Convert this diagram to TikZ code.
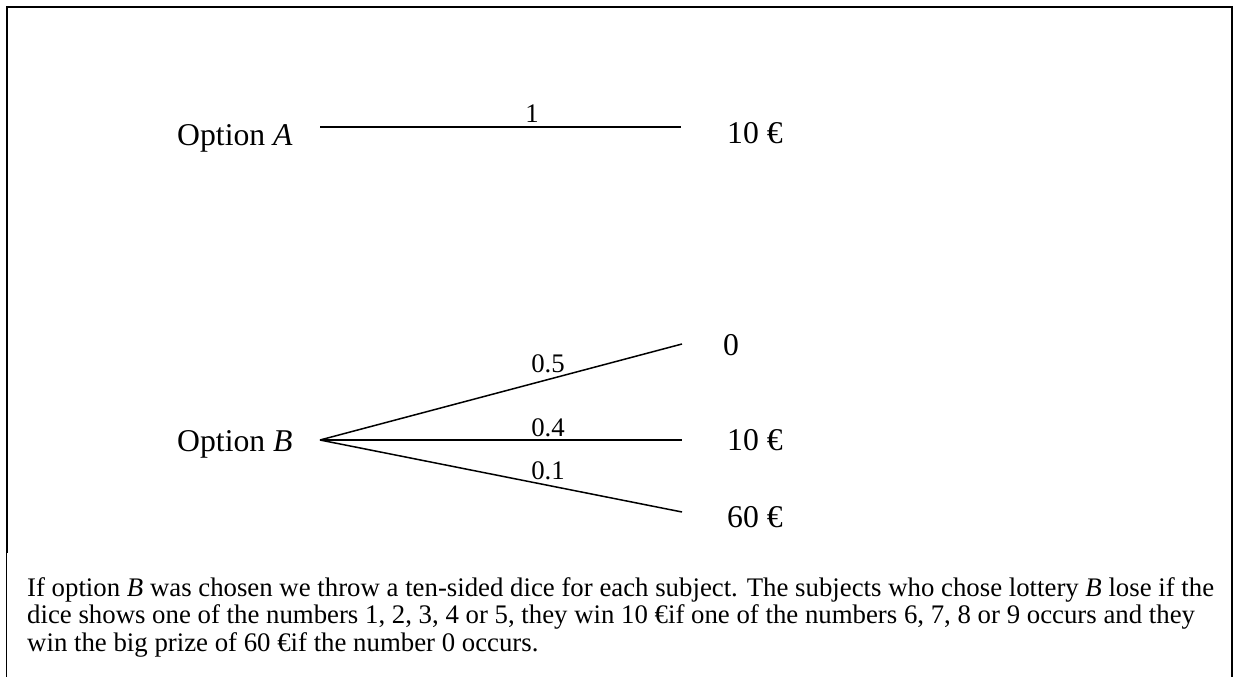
\documentclass[tikz,border=0pt]{standalone}
\usepackage{fontspec}
\setmainfont{Liberation Serif}
\begin{document}
\begin{tikzpicture}[x=1pt,y=-1pt,
  big/.style={font=\fontsize{31.7}{36}\selectfont, inner sep=0pt},
  small/.style={font=\fontsize{26.8}{29}\selectfont, inner sep=0pt},
  branch/.style={line width=1.5pt},
  frameline/.style={line width=2pt}]
\useasboundingbox (0,0) rectangle (1235,677);
% frame
\draw[line width=1.3pt] (6.5,677) -- (6.5,553);
\draw[frameline] (7,553) -- (7,7) -- (1232,7) -- (1232,677);
% option A
\node[big, anchor=base west] (optA) at (177,145) {Option \textit{A}};
\node[big, anchor=base west] (outA) at (727,143) {10 €};
\coordinate (a0) at (320,127);
\coordinate (a1) at (681,127);
\draw[branch] (a0) -- (a1);
\node[small, anchor=base] (pA) at (532,122) {1};
% option B
\node[big, anchor=base west] (optB) at (177,451) {Option \textit{B}};
\coordinate (b0) at (320,440);
\coordinate (b1) at (682,344);
\coordinate (b2) at (682,440);
\coordinate (b3) at (682,512);
\draw[branch] (b0) -- (b1);
\draw[branch] (b0) -- (b2);
\draw[branch] (b0) -- (b3);
\node[small, anchor=base] (p5) at (548,372) {0.5};
\node[small, anchor=base] (p4) at (548,436.5) {0.4};
\node[small, anchor=base] (p1) at (548,479) {0.1};
\node[big, anchor=base west] (out0) at (723,355) {0};
\node[big, anchor=base west] (out10) at (727,450) {10 €};
\node[big, anchor=base west] (out60) at (727,527) {60 €};
% caption
\node[small, anchor=base west] (c1) at (27,596) {If option \textit{B} was chosen we throw a ten-sided dice for each subject. The subjects who chose lottery \textit{B} lose if the};
\node[small, anchor=base west] (c2) at (27,623.5) {dice shows one of the numbers 1, 2, 3, 4 or 5, they win 10 €if one of the numbers 6, 7, 8 or 9 occurs and they};
\node[small, anchor=base west] (c3) at (27,651) {win the big prize of 60 €if the number 0 occurs.};
\end{tikzpicture}
\end{document}
